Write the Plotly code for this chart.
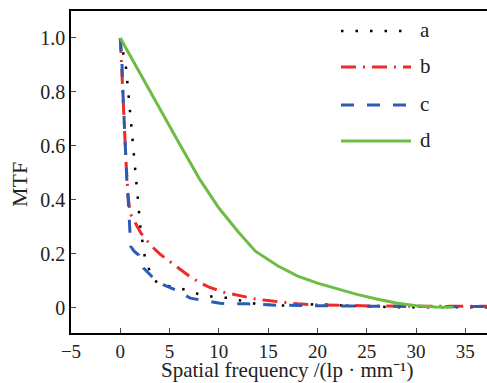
import plotly.graph_objects as go

# Data
a_x = [0, 0.27, 0.58, 0.85, 1.12, 1.35, 1.62, 1.86, 2.06, 2.27, 2.5, 2.9, 3.3, 3.8, 5.3, 6.7, 8.1, 9.6, 11.0, 12.5, 14.0, 17.0, 20.0, 23.0, 27.4, 32.0, 37.5]
a_y = [1.0, 0.946, 0.89, 0.783, 0.672, 0.563, 0.454, 0.35, 0.29, 0.24, 0.186, 0.145, 0.115, 0.089, 0.079, 0.067, 0.049, 0.04, 0.037, 0.025, 0.013, 0.008, 0.014, 0.008, 0.003, 0.002, 0.002]

b_x = [0, 0.1, 0.27, 0.34, 0.47, 0.61, 0.81, 1.0, 1.3, 1.6, 2.1, 2.6, 3.2, 4.0, 5.0, 6.0, 7.0, 8.0, 9.0, 10.5, 12.0, 13.7, 15.0, 16.6, 18.0, 20.0, 23.0, 26.0, 30.0, 34.0, 37.5]
b_y = [1.0, 0.92, 0.84, 0.76, 0.62, 0.52, 0.41, 0.35, 0.33, 0.31, 0.277, 0.254, 0.228, 0.2, 0.172, 0.143, 0.118, 0.095, 0.077, 0.058, 0.045, 0.033, 0.027, 0.02, 0.015, 0.011, 0.008, 0.007, 0.006, 0.006, 0.006]

c_x = [0, 0.17, 0.27, 0.41, 0.51, 0.68, 0.85, 0.95, 1.05, 1.4, 1.86, 2.37, 3.38, 4.4, 5.58, 7.1, 8.45, 10.1, 12.85, 15.9, 20.0, 25.0, 30.0, 37.5]
c_y = [1.0, 0.91, 0.795, 0.684, 0.573, 0.462, 0.375, 0.289, 0.228, 0.21, 0.196, 0.147, 0.11, 0.085, 0.067, 0.036, 0.027, 0.017, 0.015, 0.01, 0.008, 0.006, 0.005, 0.005]

d_x = [0, 2, 4, 6, 8, 10, 12, 13.7, 16, 18, 20, 22, 24, 26, 28, 30, 32, 33.8]
d_y = [1.0, 0.868, 0.737, 0.608, 0.48, 0.37, 0.28, 0.21, 0.155, 0.118, 0.092, 0.07, 0.05, 0.033, 0.018, 0.008, 0.003, 0.002]

names = ["a", "b", "c", "d"]
x_ticks = [-5, 0, 5, 10, 15, 20, 25, 30, 35]
y_ticks = [0, 0.2, 0.4, 0.6, 0.8, 1.0]
y_ticktext = ["0", "0.2", "0.4", "0.6", "0.8", "1.0"]
x_title = "Spatial frequency /(lp · mm⁻¹)"
y_title = "MTF"

FONT = "Liberation Serif"
W, H = 487, 383
ML, MR, MT, MB = 71, 0, 11, 50
PW, PH = W - ML - MR, H - MT - MB


def px_x(p):
    return (p - ML) / PW


def px_y(p):
    return (H - MB - p) / PH


fig = go.Figure()
styles = [
    ("black", "2.5px,12px", 2.5),
    ("#ee2b2b", "15px,7px,2px,7px", 3),
    ("#2b5cb5", "13px,13px", 3),
    ("#6dbd45", "solid", 3),
]
data = [(a_x, a_y), (b_x, b_y), (c_x, c_y), (d_x, d_y)]
shapes = []
annotations = []
legend_rows = [31, 67, 105, 141]
for name, (xs, ys), (col, dash, w), row in zip(names, data, styles, legend_rows):
    fig.add_trace(go.Scatter(x=xs, y=ys, mode="lines", name=name, showlegend=False,
                             line=dict(color=col, dash=dash, width=w)))
    shapes.append(dict(type="line", xref="paper", yref="paper",
                       x0=px_x(341), x1=px_x(411), y0=px_y(row), y1=px_y(row),
                       line=dict(color=col, dash=dash, width=w)))
    annotations.append(dict(text=name, xref="paper", yref="paper", x=px_x(418), y=px_y(row - 1),
                            xanchor="left", yanchor="middle", showarrow=False,
                            font=dict(size=21, family=FONT, color="#222")))

annotations.append(dict(text=x_title, xref="paper", yref="paper", x=px_x(287), y=px_y(370),
                        xanchor="center", yanchor="middle", showarrow=False,
                        font=dict(size=21, family=FONT, color="#222")))
annotations.append(dict(text=y_title, xref="paper", yref="paper", x=px_x(19), y=px_y(185),
                        xanchor="center", yanchor="middle", textangle=-90, showarrow=False,
                        font=dict(size=22, family=FONT, color="#222")))

fig.update_layout(
    width=W, height=H,
    margin=dict(l=ML, r=MR, t=MT, b=MB),
    plot_bgcolor="white", paper_bgcolor="white",
    font=dict(family=FONT, size=20, color="#222"),
    showlegend=False,
    shapes=shapes,
    annotations=annotations,
    xaxis=dict(range=[-5, 37.2], tickvals=x_ticks, ticks="inside", ticklen=5,
               showline=True, linecolor="black", linewidth=1.5, mirror=True,
               showgrid=False, zeroline=False, tickfont=dict(size=19)),
    yaxis=dict(range=[-0.093, 1.1], tickvals=y_ticks, ticktext=y_ticktext, ticks="inside", ticklen=5,
               showline=True, linecolor="black", linewidth=1.5,
               showgrid=False, zeroline=False, tickfont=dict(size=20)),
)

fig.write_html("out.html")
